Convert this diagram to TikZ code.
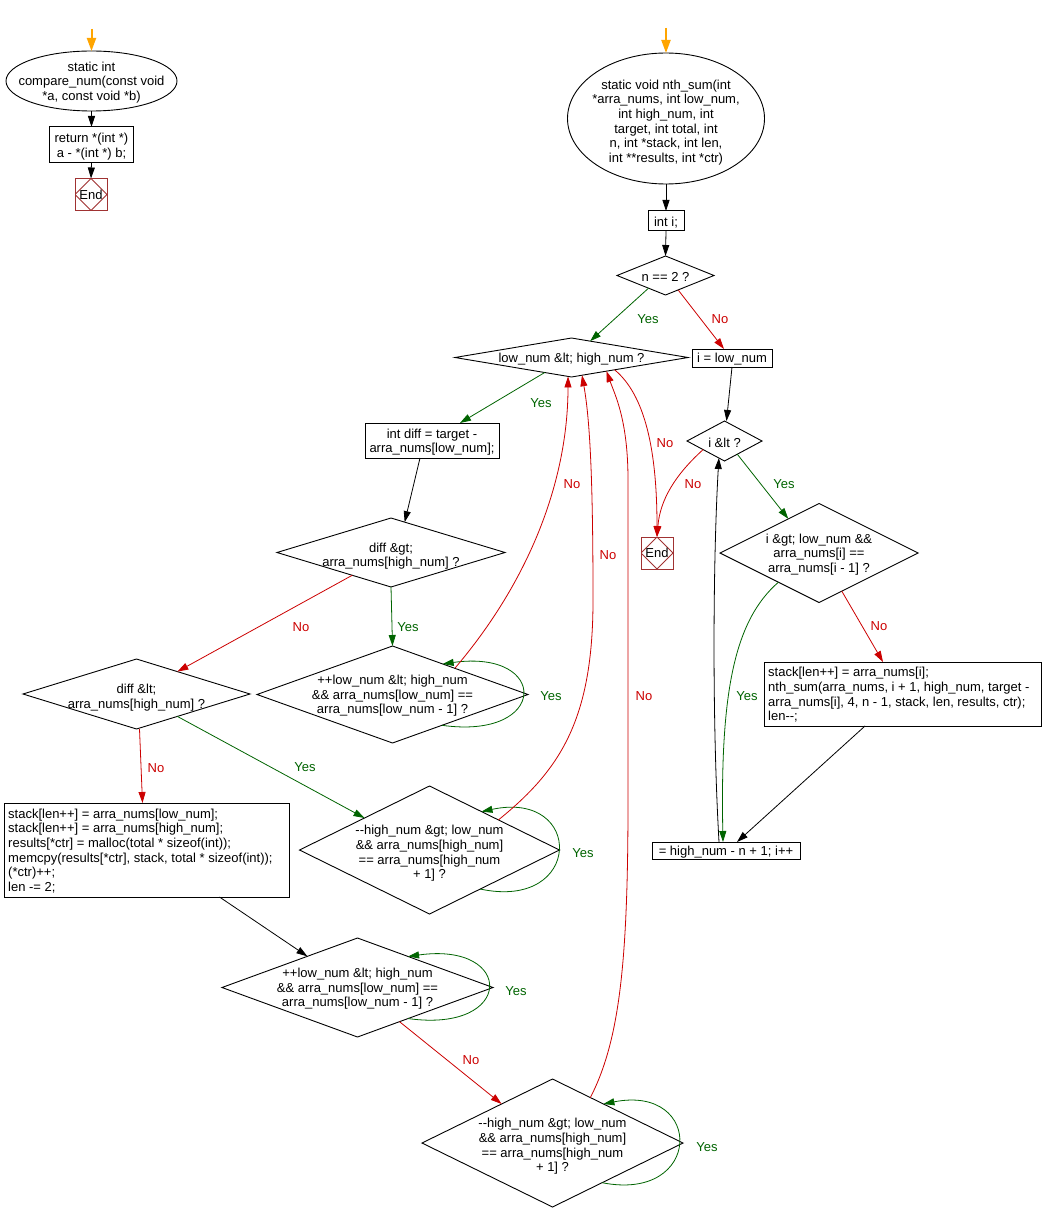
\documentclass[tikz,border=0pt]{standalone}
\usepackage{fontspec}
\setmainfont{Liberation Sans}
\usetikzlibrary{shapes.geometric,arrows.meta,calc}
\definecolor{ygreen}{RGB}{0,100,0}
\definecolor{nred}{RGB}{204,0,0}
\definecolor{endred}{RGB}{160,50,50}
\definecolor{startor}{RGB}{255,165,0}
\begin{document}
\begin{tikzpicture}[x=1pt,y=-1pt,
  txt/.style={font=\fontsize{13}{14.6}\selectfont,align=center,inner sep=0pt,yshift=-1.5pt},
  ltxt/.style={font=\fontsize{13}{14.6}\selectfont,align=left,inner sep=0pt,anchor=west,yshift=-1pt},
  proc/.style={draw=black,line width=1pt,rectangle,inner sep=0pt,outer sep=0pt},
  dec/.style={draw=black,line width=0.9pt,diamond,inner sep=0pt,outer sep=0pt},
  term/.style={draw=black,line width=0.9pt,ellipse,inner sep=0pt,outer sep=0pt},
  endbox/.style={draw=endred,line width=1pt,rectangle,minimum width=32pt,minimum height=32pt,
    inner sep=0pt,outer sep=0pt,font=\fontsize{13}{14.6}\selectfont,text=black,
    path picture={\draw[endred,line width=0.8pt] (path picture bounding box.north) -- (path picture bounding box.east) -- (path picture bounding box.south) -- (path picture bounding box.west) -- cycle;}},
  arr/.style={-{Triangle[length=11pt,width=7pt]},line width=0.8pt},
  blk/.style={arr,color=black},
  yes/.style={arr,color=ygreen},
  no/.style={arr,color=nred},
  orarr/.style={-{Triangle[length=13pt,width=9pt]},line width=2pt,color=startor},
  ylab/.style={txt,text=ygreen},
  nlab/.style={txt,text=nred}]
\fill[white] (0,0) rectangle (1044,1222);
\useasboundingbox (0,0) rectangle (1044,1222);

% ---- left function ----
\coordinate (oL) at (91.5,29);
\node[term,minimum width=171pt,minimum height=60pt] (eL) at (91.5,81) {};
\node[txt] at (eL) {static int\\compare\_num(const void\\*a, const void *b)};
\node[proc,minimum width=84pt,minimum height=36pt] (bret) at (91.5,145) {};
\node[txt] at (bret) {return *(int *)\\a - *(int *) b;};
\node[endbox] (endL) at (91,194.5) {End};

\draw[orarr] (oL) -- (eL.north);
\draw[blk] (eL.south) -- (bret.north);
\draw[blk] (bret.south) -- (endL.north);

% ---- right function ----
\coordinate (oR) at (666,28);
\node[term,minimum width=197pt,minimum height=131pt] (eR) at (666,118.5) {};
\node[txt] at (666,121) {static void nth\_sum(int\\*arra\_nums, int low\_num,\\int high\_num, int\\target, int total, int\\n, int *stack, int len,\\int **results, int *ctr)};
\node[proc,minimum width=36pt,minimum height=20pt] (bint) at (666,221) {};
\node[txt] at (bint) {int i;};
\node[dec,minimum width=97pt,minimum height=39pt] (dn2) at (665.5,275.5) {};
\node[txt] at (dn2) {n == 2 ?};
\node[dec,minimum width=233pt,minimum height=39pt] (dlow) at (571.5,357.5) {};
\node[txt] at (dlow) {low\_num \&lt; high\_num ?};
\node[proc,minimum width=80pt,minimum height=18pt] (bi) at (732,358) {};
\node[txt] at (bi) {i = low\_num};
\node[dec,minimum width=75pt,minimum height=40pt] (di) at (724.5,441) {};
\node[txt] at (di) {i \&lt ?};
\node[proc,minimum width=134pt,minimum height=35pt] (bdiff) at (432,440.5) {};
\node[txt] at (bdiff) {int diff = target -\\arra\_nums[low\_num];};
\node[dec,minimum width=228pt,minimum height=69pt] (dgt) at (391,552.5) {};
\node[txt] at (391,554.5) {diff \&gt;\\arra\_nums[high\_num] ?};
\node[endbox] (endR) at (657,553) {End};
\node[dec,minimum width=198pt,minimum height=99pt] (dgl) at (819,553) {};
\node[txt] at (dgl) {i \&gt; low\_num \&\&\\arra\_nums[i] ==\\arra\_nums[i - 1] ?};
\node[dec,minimum width=271pt,minimum height=97pt] (dpl1) at (392.5,694.5) {};
\node[txt] at (dpl1) {++low\_num \&lt; high\_num\\\&\& arra\_nums[low\_num] ==\\arra\_nums[low\_num - 1] ?};
\node[dec,minimum width=227pt,minimum height=70pt] (dlt) at (136.5,694) {};
\node[txt] at (136.5,696) {diff \&lt;\\arra\_nums[high\_num] ?};
\node[proc,minimum width=277pt,minimum height=64pt] (bnth) at (902.5,694) {};
\node[ltxt] at ([xshift=4pt]bnth.west) {stack[len++] = arra\_nums[i];\\nth\_sum(arra\_nums, i + 1, high\_num, target -\\arra\_nums[i], 4, n - 1, stack, len, results, ctr);\\len-\kern0pt-;};
\node[proc,minimum width=285pt,minimum height=94pt] (bstk) at (146.5,850) {};
\node[ltxt] at ([xshift=4pt]bstk.west) {stack[len++] = arra\_nums[low\_num];\\stack[len++] = arra\_nums[high\_num];\\results[*ctr] = malloc(total * sizeof(int));\\memcpy(results[*ctr], stack, total * sizeof(int));\\(*ctr)++;\\len -= 2;};
\node[dec,minimum width=260pt,minimum height=128pt] (dhm1) at (429.5,850) {};
\node[txt] at (429.5,852) {-\kern0pt-high\_num \&gt; low\_num\\\&\& arra\_nums[high\_num]\\== arra\_nums[high\_num\\+ 1] ?};
\node[proc,minimum width=148pt,minimum height=17pt] (binc) at (726,850.5) {};
\node[txt] at (binc) {= high\_num - n + 1; i++};
\node[dec,minimum width=271pt,minimum height=99pt] (dpl2) at (357.5,987.5) {};
\node[txt] at (dpl2) {++low\_num \&lt; high\_num\\\&\& arra\_nums[low\_num] ==\\arra\_nums[low\_num - 1] ?};
\node[dec,minimum width=261pt,minimum height=128pt] (dhm2) at (552.5,1143) {};
\node[txt] at (552.5,1145) {-\kern0pt-high\_num \&gt; low\_num\\\&\& arra\_nums[high\_num]\\== arra\_nums[high\_num\\+ 1] ?};

% ---- connectors ----
\draw[orarr] (oR) -- (eR.north);
\draw[blk] (eR.south) -- (bint.north);
\draw[blk] (bint.south) -- (dn2.north);
\draw[yes] ($(dn2.south)!0.35!(dn2.west)$) -- ($(dlow.north)!0.16!(dlow.east)$);
\node[ylab] at (648,318) {Yes};
\draw[no] ($(dn2.south)!0.26!(dn2.east)$) -- ([xshift=-8pt]bi.north);
\node[nlab] at (720,318) {No};
\draw[blk] (bi.south) -- ([xshift=2pt]di.north);
\draw[yes] ($(dlow.south)!0.23!(dlow.west)$) -- ([xshift=28pt]bdiff.north);
\node[ylab] at (541,402) {Yes};
\draw[no] ($(dlow.south)!0.37!(dlow.east)$) .. controls (645,395) and (657,450) .. (endR.north);
\node[nlab] at (665,442) {No};
\draw[no] ($(di.south)!0.57!(di.west)$) .. controls (675,475) and (660,500) .. (endR.north);
\node[nlab] at (693,483) {No};
\draw[yes] ($(di.south)!0.34!(di.east)$) -- ($(dgl.north)!0.31!(dgl.west)$);
\node[ylab] at (784,483) {Yes};
\draw[blk] ([xshift=-12pt]bdiff.south) -- ($(dgt.north)!0.12!(dgt.east)$);
\draw[yes] (dgt.south) -- (dpl1.north);
\node[ylab] at (408,626) {Yes};
\draw[no] ($(dgt.south)!0.34!(dgt.west)$) -- ($(dlt.north)!0.36!(dlt.east)$);
\node[nlab] at (301,626) {No};
\draw[yes] ($(dpl1.south)!0.365!(dpl1.east)$) .. controls +(107,15) and +(107,-15) .. ($(dpl1.north)!0.37!(dpl1.east)$);
\node[ylab] at (551,695) {Yes};
\draw[no] ($(dpl1.north)!0.46!(dpl1.east)$) .. controls (530,580) and (568,480) .. ($(dlow.south)!0.03!(dlow.west)$);
\node[nlab] at (572,483) {No};
\draw[no] ([xshift=3pt]dlt.south) -- ([xshift=-4pt]bstk.north);
\node[nlab] at (156,767) {No};
\draw[yes] ($(dlt.south)!0.36!(dlt.east)$) -- ($(dhm1.north)!0.5!(dhm1.west)$);
\node[ylab] at (305,766) {Yes};
\draw[yes] ($(dhm1.south)!0.39!(dhm1.east)$) .. controls +(103,22) and +(103,-22) .. ($(dhm1.north)!0.40!(dhm1.east)$);
\node[ylab] at (583,852) {Yes};
\draw[no] ($(dhm1.north)!0.53!(dhm1.east)$) .. controls (560,770) and (593,720) .. (593,600) .. controls (593,480) and (590,420) .. ($(dlow.south)!0.09!(dlow.east)$);
\node[nlab] at (608,554) {No};
\draw[blk] ([xshift=73pt]bstk.south) -- ($(dpl2.north)!0.37!(dpl2.west)$);
\draw[yes] ($(dpl2.south)!0.373!(dpl2.east)$) .. controls +(107,15) and +(107,-15) .. ($(dpl2.north)!0.373!(dpl2.east)$);
\node[ylab] at (516,990) {Yes};
\draw[no] ($(dpl2.south)!0.31!(dpl2.east)$) -- ($(dhm2.north)!0.39!(dhm2.west)$);
\node[nlab] at (471,1059) {No};
\draw[yes] ($(dhm2.south)!0.38!(dhm2.east)$) .. controls +(101,20) and +(101,-20) .. ($(dhm2.north)!0.39!(dhm2.east)$);
\node[ylab] at (707,1146) {Yes};
\draw[no] ($(dhm2.north)!0.29!(dhm2.east)$) .. controls (620,1040) and (628,960) .. (628,800) -- (628,480) .. controls (628,420) and (615,395) .. ($(dlow.south)!0.3!(dlow.east)$);
\node[nlab] at (644,695) {No};
\draw[no] ($(dgl.south)!0.23!(dgl.east)$) -- ([xshift=-19.5pt]bnth.north);
\node[nlab] at (879,625) {No};
\draw[yes] ($(dgl.south)!0.41!(dgl.west)$) .. controls (735,620) and (720,690) .. ([xshift=-3pt]binc.north);
\node[ylab] at (747,695) {Yes};
\draw[blk] ([xshift=-37.5pt]bnth.south) -- ([xshift=11pt]binc.north);
\draw[blk] ([xshift=-7pt]binc.north) .. controls (712,720) and (713,560) .. ($(di.south)!0.15!(di.west)$);
\end{tikzpicture}
\end{document}
